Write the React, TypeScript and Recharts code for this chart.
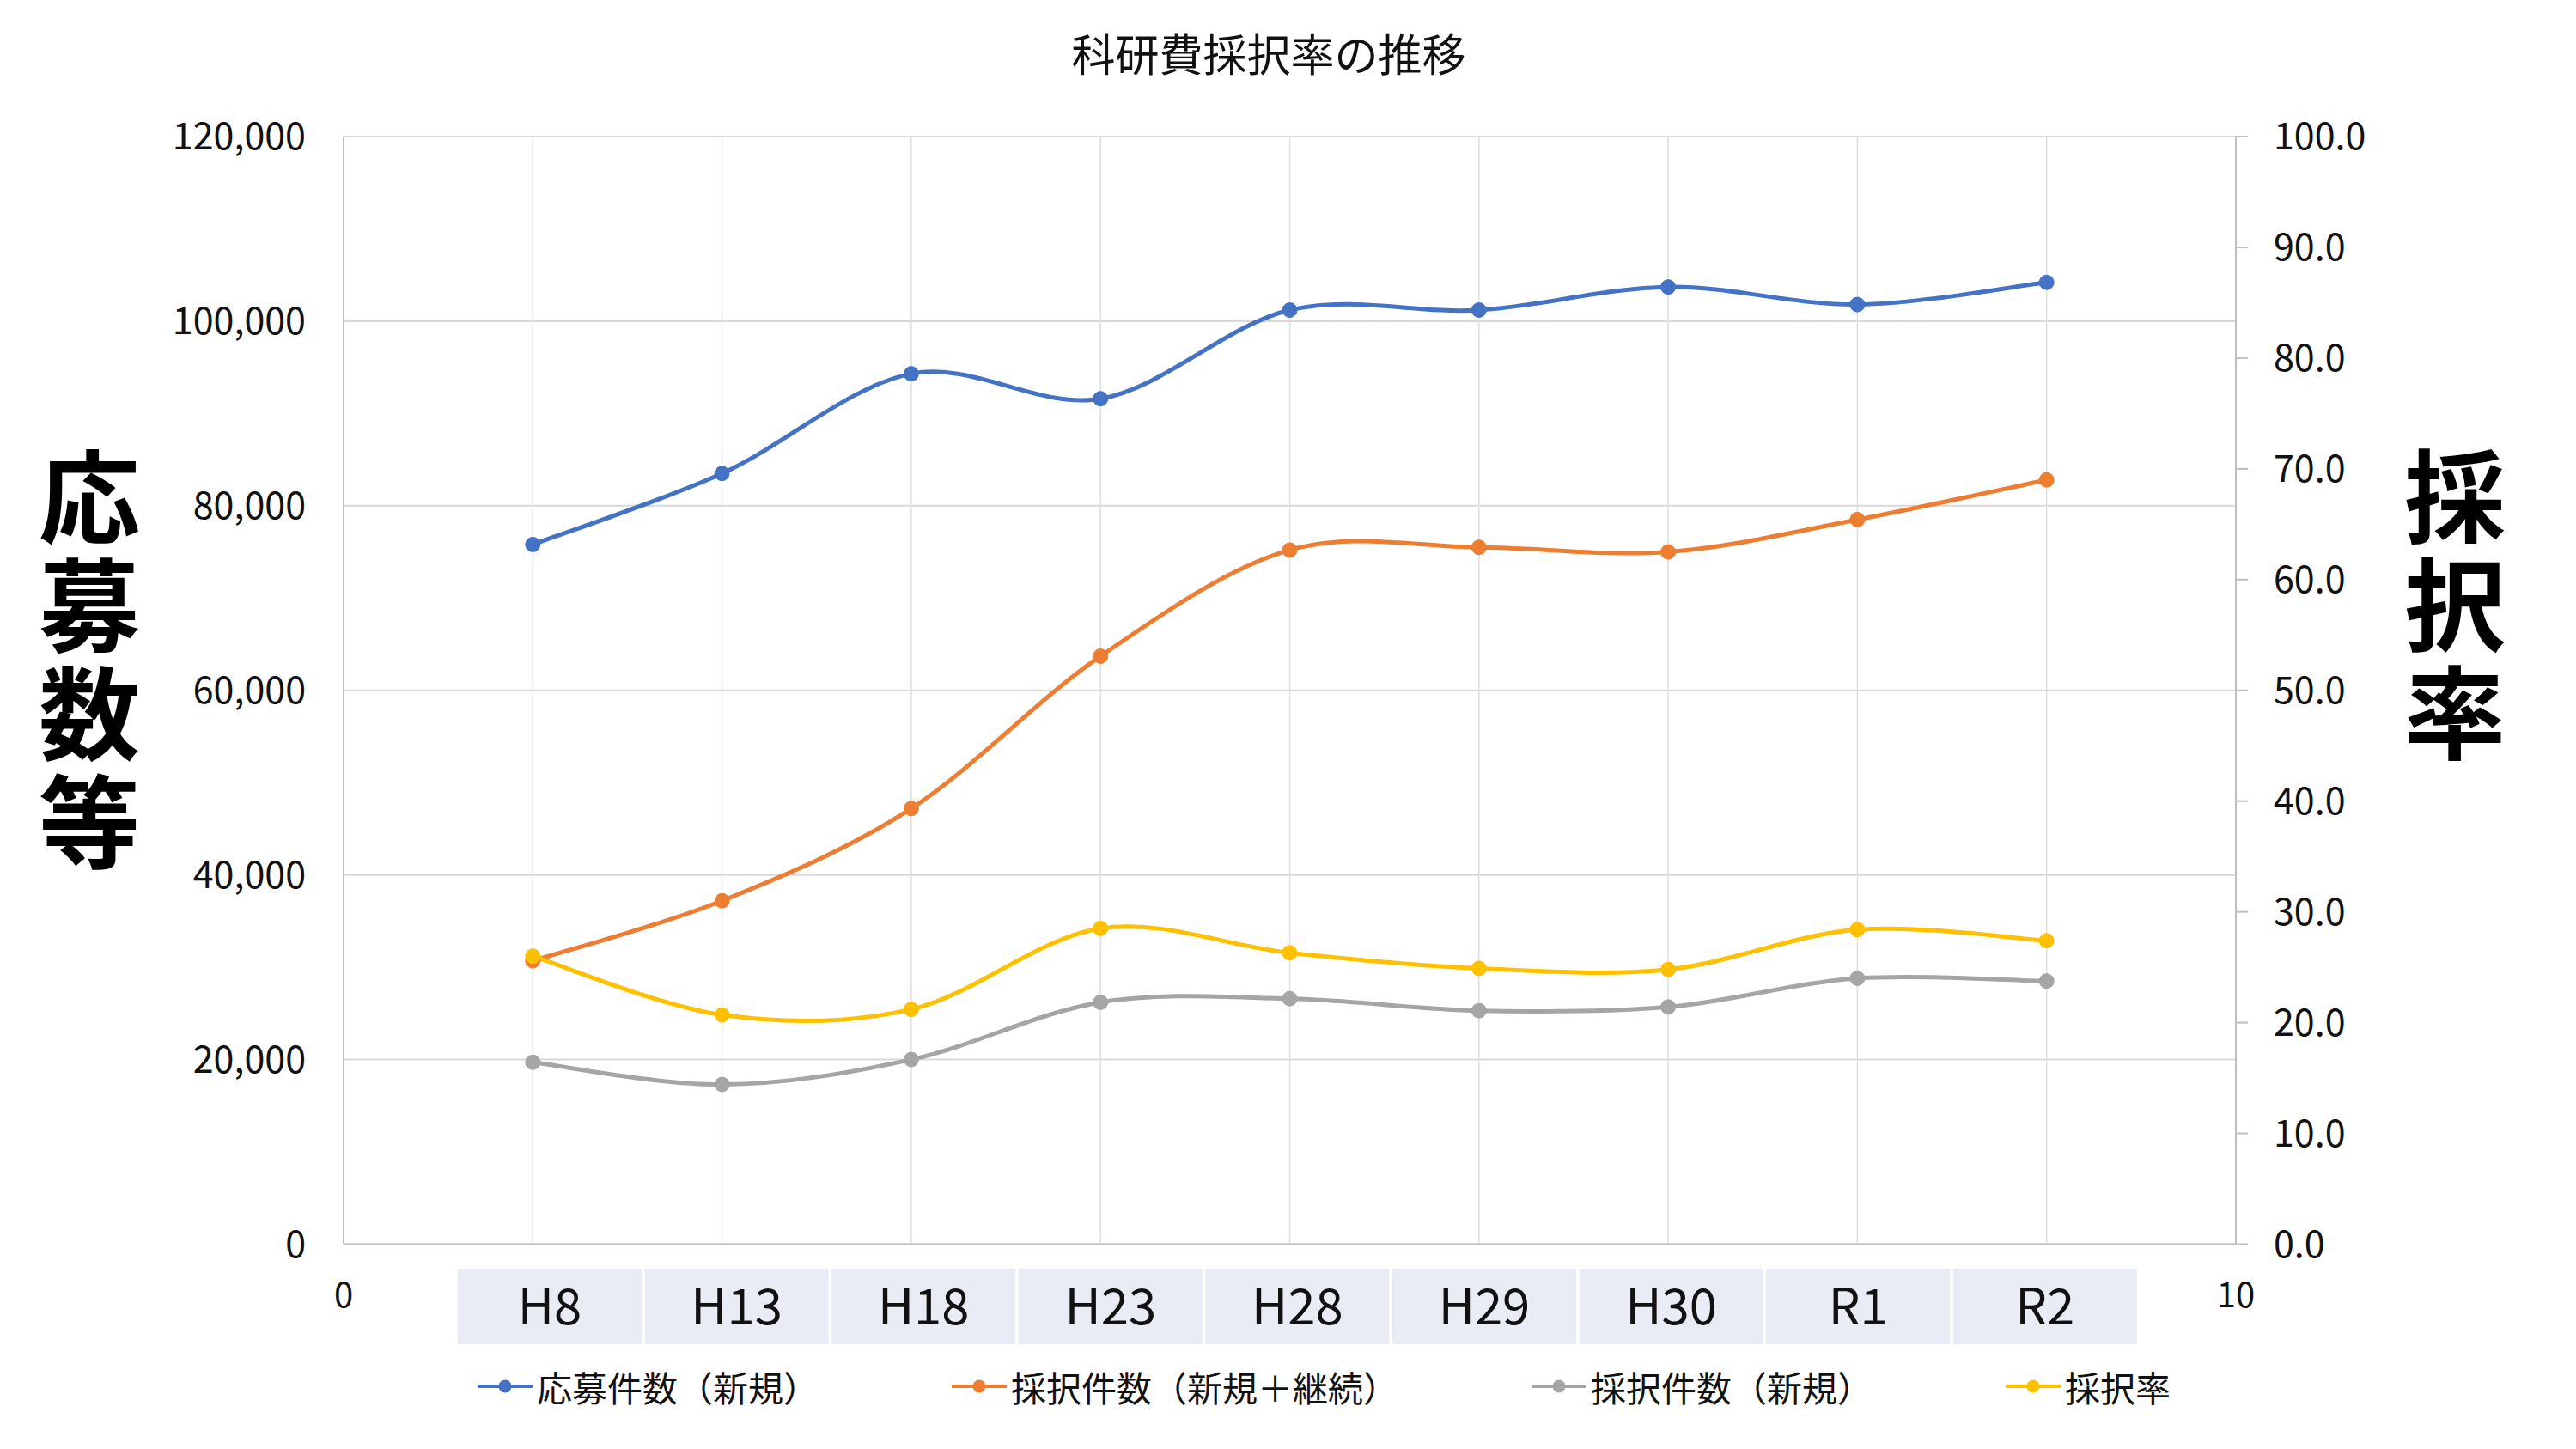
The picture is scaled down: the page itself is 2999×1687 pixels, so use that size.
import React from "react";
import {
  CartesianGrid,
  Legend,
  Line,
  LineChart,
  XAxis,
  YAxis,
} from "recharts";

const FONT = '"Noto Sans CJK JP", "Noto Sans", sans-serif';

const categories = ["H8", "H13", "H18", "H23", "H28", "H29", "H30", "R1", "R2"];
const seriesNames = ["応募件数（新規）", "採択件数（新規＋継続）", "採択件数（新規）", "採択率"];
const seriesColors = ["#4472C4", "#ED7D31", "#A5A5A5", "#FFC000"];
const applications = [75800, 83500, 94300, 91600, 101200, 101200, 103700, 101800, 104200];
const adoptedTotal = [30700, 37200, 47200, 63700, 75200, 75500, 75000, 78500, 82800];
const adoptedNew = [19700, 17300, 20000, 26200, 26600, 25300, 25700, 28800, 28500];
const adoptionRate = [26.0, 20.7, 21.2, 28.5, 26.3, 24.9, 24.8, 28.4, 27.4];

const leftTicks = [0, 20000, 40000, 60000, 80000, 100000, 120000];
const rightTicks = [0, 10, 20, 30, 40, 50, 60, 70, 80, 90, 100];
const xTicks = [0, 1, 2, 3, 4, 5, 6, 7, 8, 9, 10];

const data = categories.map((c, i) => ({
  x: i + 1,
  cat: c,
  applications: applications[i],
  adoptedTotal: adoptedTotal[i],
  adoptedNew: adoptedNew[i],
  adoptionRate: adoptionRate[i],
}));

// Excel-like smoothed line (Catmull-Rom through points)
function excelSmooth(context: any) {
  let pts: number[][] = [];
  return {
    areaStart() {},
    areaEnd() {},
    lineStart() {
      pts = [];
    },
    point(x: number, y: number) {
      pts.push([+x, +y]);
    },
    lineEnd() {
      if (!pts.length) return;
      context.moveTo(pts[0][0], pts[0][1]);
      for (let i = 0; i < pts.length - 1; i++) {
        const p0 = pts[i - 1] || pts[i];
        const p1 = pts[i];
        const p2 = pts[i + 1];
        const p3 = pts[i + 2] || p2;
        context.bezierCurveTo(
          p1[0] + (p2[0] - p0[0]) / 6,
          p1[1] + (p2[1] - p0[1]) / 6,
          p2[0] - (p3[0] - p1[0]) / 6,
          p2[1] - (p3[1] - p1[1]) / 6,
          p2[0],
          p2[1]
        );
      }
    },
  };
}

// bottom axis: plain "0" / "10" at the ends, a shaded table cell for each category
function AxisTick(props: any) {
  const { x, y, payload } = props;
  const v = payload.value;
  if (v === 0 || v === 10) {
    return (
      <text x={x} y={y + 57} dy="0.355em" textAnchor="middle" fontSize={40} fontFamily={FONT} fill="#111">
        {v}
      </text>
    );
  }
  const label = categories[v - 1];
  if (!label) return <g />;
  // table cells are a touch narrower than the axis step, like the excel sheet
  const cx = x + 22.4 - 2.7 * v;
  return (
    <g>
      <rect x={cx - 107} y={y + 26.5} width={214} height={88} fill="#E9EBF5" />
      <text x={cx} y={y + 70.5} dy="0.355em" textAnchor="middle" fontSize={58} fontFamily={FONT} fill="#111">
        {label}
      </text>
    </g>
  );
}

function LegendContent(props: any) {
  const items = [...(props.payload || [])].sort(
    (a: any, b: any) => seriesNames.indexOf(a.value) - seriesNames.indexOf(b.value)
  );
  return (
    <div
      style={{
        display: "flex",
        paddingLeft: 556,
        height: 102,
        alignItems: "flex-start",
        fontFamily: FONT,
        fontSize: 41,
        color: "#111",
      }}
    >
      {items.map((it: any) => (
        <div key={it.value} style={{ display: "flex", alignItems: "center", marginRight: 155, height: 58 }}>
          <svg width={64} height={20}>
            <line x1={0} y1={10} x2={64} y2={10} stroke={it.color} strokeWidth={4} />
            <circle cx={32} cy={10} r={7.5} fill={it.color} />
          </svg>
          <span style={{ marginLeft: 5, lineHeight: "58px", whiteSpace: "nowrap" }}>{it.value}</span>
        </div>
      ))}
    </div>
  );
}

function VerticalTitle({ cx, top, chars }: { cx: number; top: number; chars: string }) {
  return (
    <text
      x={cx}
      y={top}
      writingMode="vertical-rl"
      style={{ writingMode: "vertical-rl" } as any}
      fontSize={118}
      letterSpacing={8}
      fontWeight={700}
      fontFamily={FONT}
      fill="#000"
    >
      {chars}
    </text>
  );
}

export default function App() {
  const dot = (color: string) => ({ r: 8.5, fill: color, stroke: color, strokeWidth: 1 });
  const keys = ["applications", "adoptedTotal", "adoptedNew", "adoptionRate"];
  return (
    <div style={{ position: "absolute", left: 0, top: 0, width: 2999, height: 1687, background: "#fff" }}>
      <LineChart width={2999} height={1687} data={data} margin={{ top: 159, right: 0, bottom: 0, left: 0 }}>
        <CartesianGrid xAxisId="main" yAxisId="left" vertical={false} stroke="#d9d9d9" strokeWidth={2} />
        <CartesianGrid xAxisId="main" yAxisId="left" horizontal={false} stroke="#dedede" strokeWidth={1.5} />
        <XAxis
          xAxisId="main"
          type="number"
          dataKey="x"
          domain={[0, 10]}
          ticks={xTicks}
          interval={0}
          height={136.5}
          tickSize={0}
          tickLine={false}
          axisLine={{ stroke: "#bfbfbf", strokeWidth: 2 }}
          tick={<AxisTick />}
        />
        <YAxis
          yAxisId="left"
          orientation="left"
          width={400}
          domain={[0, 120000]}
          ticks={leftTicks}
          interval={0}
          tickSize={0}
          tickMargin={44}
          tickLine={false}
          axisLine={{ stroke: "#bfbfbf", strokeWidth: 2 }}
          tickFormatter={(v: number) => v.toLocaleString("en-US")}
          tick={{ fontSize: 43, fontFamily: FONT, fill: "#111" }}
        />
        <YAxis
          yAxisId="right"
          orientation="right"
          width={396}
          domain={[0, 100]}
          ticks={rightTicks}
          interval={0}
          tickSize={14}
          tickMargin={30}
          tickLine={{ stroke: "#bfbfbf", strokeWidth: 2 }}
          axisLine={{ stroke: "#bfbfbf", strokeWidth: 2 }}
          tickFormatter={(v: number) => v.toFixed(1)}
          tick={{ fontSize: 43, fontFamily: FONT, fill: "#111" }}
        />
        <Legend
          verticalAlign="bottom"
          align="left"
          content={<LegendContent />}
          wrapperStyle={{ top: 1585, left: 0, width: 2999 }}
        />
        {keys.map((k, i) => (
          <Line
            key={k}
            xAxisId="main"
            yAxisId={i === 3 ? "right" : "left"}
            name={seriesNames[i]}
            dataKey={k}
            type={excelSmooth as any}
            stroke={seriesColors[i]}
            strokeWidth={5}
            dot={dot(seriesColors[i])}
            isAnimationActive={false}
          />
        ))}
        <text x={1477} y={83} textAnchor="middle" fontSize={51} fontFamily={FONT} fill="#111">
          科研費採択率の推移
        </text>
        <VerticalTitle cx={104} top={520} chars="応募数等" />
        <VerticalTitle cx={2858} top={519} chars="採択率" />
      </LineChart>
    </div>
  );
}
